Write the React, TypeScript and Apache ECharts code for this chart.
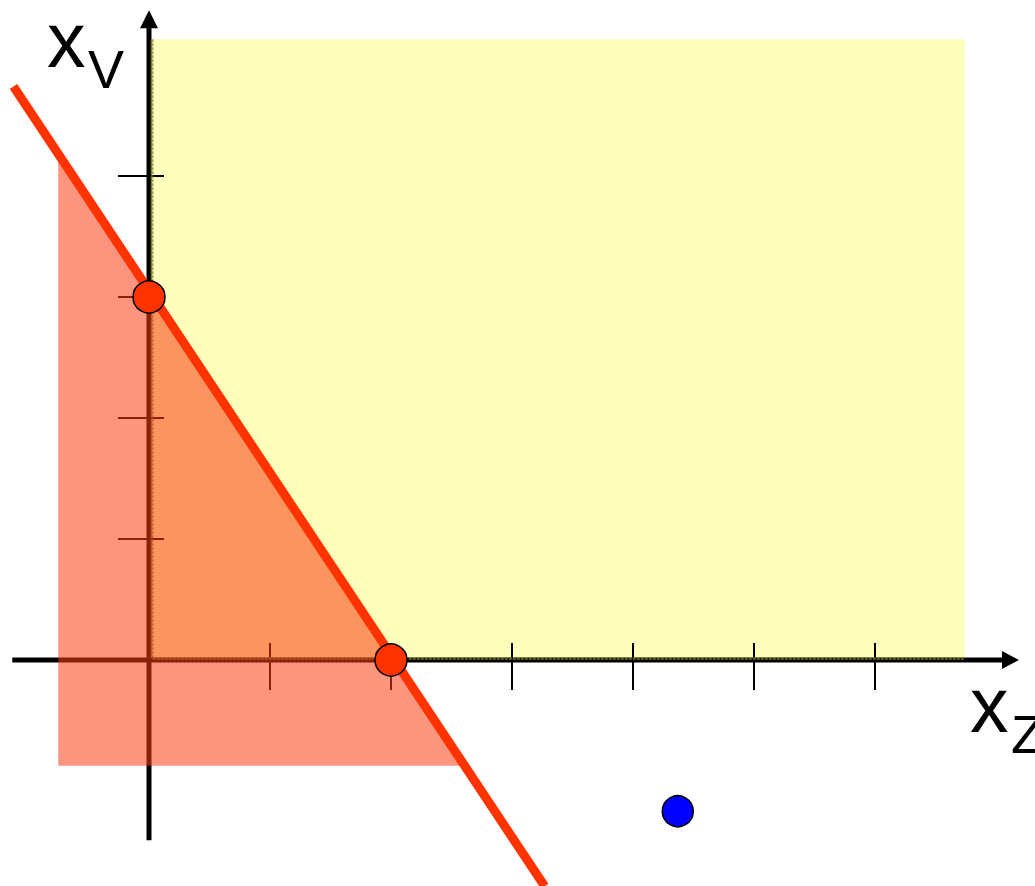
import React, { useEffect, useRef } from "react";
import * as echarts from "echarts";

// visible data extents of the whole picture
const xRange = [-1.2314, 7.3223];
const yRange = [-1.8678, 5.4545];

// regions
const feasibleRegion = [
  [0, 0],
  [6.74, 0],
  [6.74, 5.13],
  [0, 5.13],
];
const infeasibleRegion = [
  [-0.75, -0.875],
  [-0.75, 4.125],
  [2.583, -0.875],
];
// constraint line and points
const constraintLine = [
  [-1.12, 4.74],
  [3.27, -1.87],
];
const intercepts = [
  [0, 3],
  [2, 0],
];
const bluePoint = [[4.37, -1.25]];
// axes
const xTicks = [1, 2, 3, 4, 5, 6];
const yTicks = [1, 2, 3, 4];
const xAxisSpan = [-1.13, 7.19];
const yAxisSpan = [-1.49, 5.37];
const xLabelMain = "x";
const xLabelSub = "Z";
const yLabelMain = "x";
const yLabelSub = "V";

const FONT = '"Liberation Sans", Arial, sans-serif';

export default function App() {
  const ref = useRef<HTMLDivElement>(null);

  useEffect(() => {
    if (!ref.current) return;
    const chart = echarts.init(ref.current, null, { renderer: "svg" });

    const polygonSeries = (pts: number[][], fill: string, z: number) => ({
      type: "custom",
      z,
      silent: true,
      data: [0],
      renderItem: (_p: any, api: any) => ({
        type: "polygon",
        shape: { points: pts.map((p) => api.coord(p)) },
        style: { fill },
      }),
    });

    const option: any = {
      animation: false,
      backgroundColor: "#ffffff",
      grid: { left: 0, right: 0, top: 0, bottom: 0 },
      xAxis: { type: "value", min: xRange[0], max: xRange[1], show: false },
      yAxis: { type: "value", min: yRange[0], max: yRange[1], show: false },
      series: [
        polygonSeries(feasibleRegion, "#FFFFBC", 1),
        // axes with arrows
        {
          type: "custom",
          z: 2,
          silent: true,
          data: [0],
          renderItem: (_p: any, api: any) => {
            const xa = api.coord([xAxisSpan[0], 0]);
            const xb = api.coord([xAxisSpan[1], 0]);
            const ya = api.coord([0, yAxisSpan[0]]);
            const yb = api.coord([0, yAxisSpan[1]]);
            return {
              type: "group",
              children: [
                {
                  type: "line",
                  shape: { x1: xa[0], y1: xa[1], x2: xb[0] - 16, y2: xb[1] },
                  style: { stroke: "#000", lineWidth: 5 },
                },
                {
                  type: "polygon",
                  shape: {
                    points: [
                      [xb[0], xb[1]],
                      [xb[0] - 17, xb[1] - 9],
                      [xb[0] - 17, xb[1] + 9],
                    ],
                  },
                  style: { fill: "#000" },
                },
                {
                  type: "line",
                  shape: { x1: ya[0], y1: ya[1], x2: yb[0], y2: yb[1] + 17 },
                  style: { stroke: "#000", lineWidth: 5 },
                },
                {
                  type: "polygon",
                  shape: {
                    points: [
                      [yb[0], yb[1]],
                      [yb[0] - 9, yb[1] + 18],
                      [yb[0] + 9, yb[1] + 18],
                    ],
                  },
                  style: { fill: "#000" },
                },
              ],
            };
          },
        },
        // x ticks
        {
          type: "custom",
          z: 2,
          silent: true,
          data: xTicks.map((v) => [v, 0]),
          renderItem: (_p: any, api: any) => {
            const p = api.coord([api.value(0), api.value(1)]);
            return {
              type: "line",
              shape: { x1: p[0], y1: p[1] - 17, x2: p[0], y2: p[1] + 30 },
              style: { stroke: "#000", lineWidth: 2 },
            };
          },
        },
        // y ticks
        {
          type: "custom",
          z: 2,
          silent: true,
          data: yTicks.map((v) => [0, v]),
          renderItem: (_p: any, api: any) => {
            const p = api.coord([api.value(0), api.value(1)]);
            return {
              type: "line",
              shape: { x1: p[0] - 31, y1: p[1], x2: p[0] + 15, y2: p[1] },
              style: { stroke: "#000", lineWidth: 2 },
            };
          },
        },
        // olive edge of the feasible region
        {
          type: "custom",
          z: 3,
          silent: true,
          data: [0],
          renderItem: (_p: any, api: any) => {
            const tl = api.coord(feasibleRegion[3]);
            const bl = api.coord(feasibleRegion[0]);
            const br = api.coord(feasibleRegion[1]);
            return {
              type: "polyline",
              shape: {
                points: [
                  [tl[0] + 3, tl[1]],
                  [bl[0] + 3, bl[1] - 1.5],
                  [br[0], br[1] - 1.5],
                ],
              },
              style: { fill: "none", stroke: "rgba(120,120,40,0.75)", lineWidth: 3, lineDash: [3, 1] },
            };
          },
        },
        polygonSeries(infeasibleRegion, "rgba(250,60,20,0.55)", 4),
        {
          type: "line",
          z: 5,
          silent: true,
          data: constraintLine,
          symbol: "none",
          lineStyle: { color: "#FF3300", width: 9, cap: "butt" },
        },
        {
          type: "scatter",
          z: 6,
          silent: true,
          data: intercepts,
          symbol: "circle",
          symbolSize: 32,
          itemStyle: { color: "#FF3300", borderColor: "#000", borderWidth: 1.5, opacity: 1 },
        },
        {
          type: "scatter",
          z: 6,
          silent: true,
          data: bluePoint,
          symbol: "circle",
          symbolSize: 31,
          itemStyle: { color: "#0000FF", borderColor: "#000", borderWidth: 1.5, opacity: 1 },
        },
      ],
      graphic: [
        {
          type: "text",
          x: 47,
          y: 40,
          style: { text: yLabelMain, font: `77px ${FONT}`, fill: "#000", align: "left", verticalAlign: "middle" },
        },
        {
          type: "text",
          x: 88,
          y: 69,
          style: { text: yLabelSub, font: `54px ${FONT}`, fill: "#000", align: "left", verticalAlign: "middle" },
        },
        {
          type: "text",
          x: 970,
          y: 705,
          style: { text: xLabelMain, font: `77px ${FONT}`, fill: "#000", align: "left", verticalAlign: "middle" },
        },
        {
          type: "text",
          x: 1011,
          y: 734,
          style: { text: xLabelSub, font: `54px ${FONT}`, fill: "#000", align: "left", verticalAlign: "middle" },
        },
      ],
    };

    chart.setOption(option);
    return () => chart.dispose();
  }, []);

  return (
    <div
      ref={ref}
      style={{ position: "absolute", left: 0, top: 0, width: 1035, height: 886 }}
    />
  );
}
